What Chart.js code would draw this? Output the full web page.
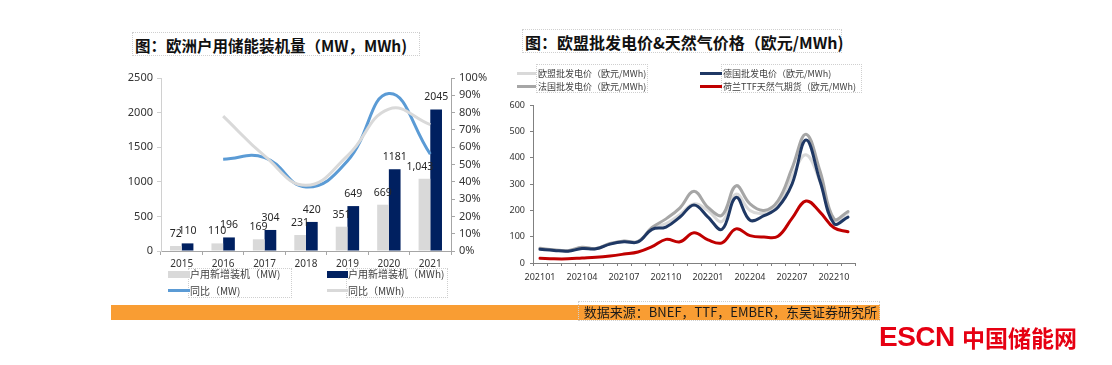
<!DOCTYPE html>
<html>
<head>
<meta charset="utf-8">
<script src="https://cdn.jsdelivr.net/npm/chart.js@4.4.0/dist/chart.umd.min.js"></script>
<style>
  html, body { margin: 0; padding: 0; background: #fff; }
  body { width: 1112px; height: 365px; position: relative; overflow: hidden;
         font-family: "Noto Sans", "Noto Sans CJK SC", sans-serif; color: #333; }
  .abs { position: absolute; white-space: nowrap; }
  .dotbox { position: absolute; border: 1px dotted #cfcfcf; box-sizing: border-box; }
  .title { font-family: "Noto Sans CJK SC", sans-serif; font-weight: 700; font-size: 15.5px;
           line-height: 20px; color: #111; }
  .lg { font-family: "Noto Sans CJK SC", sans-serif; color: #404040; }
  .sw { position: absolute; }
  canvas { position: absolute; }
</style>
</head>
<body>

<!-- titles -->
<div class="dotbox" style="left:132px;top:32px;width:288px;height:24px;"></div>
<div class="abs title" style="left:135px;top:35px;">图：欧洲户用储能装机量（MW，MWh)</div>
<div class="dotbox" style="left:522px;top:29px;width:320px;height:24px;"></div>
<div class="abs title" style="left:525px;top:32px;font-size:16px;">图：欧盟批发电价&amp;天然气价格（欧元/MWh)</div>

<canvas id="installChart" width="390" height="215" style="left:110px;top:60px;"></canvas>
<canvas id="priceChart" width="375" height="195" style="left:495px;top:95px;"></canvas>

<!-- left legend -->
<div class="dotbox" style="left:188px;top:268px;width:104px;height:30px;"></div>
<div class="dotbox" style="left:346px;top:268px;width:102px;height:30px;"></div>
<div class="sw" style="left:168px;top:271px;width:22px;height:7px;background:#d9d9d9;"></div>
<div class="abs lg" style="left:190px;top:267px;font-size:10px;line-height:14px;">户用新增装机（MW)</div>
<div class="sw" style="left:327px;top:271px;width:21px;height:7px;background:#002060;"></div>
<div class="abs lg" style="left:348px;top:267px;font-size:10px;line-height:14px;">户用新增装机（MWh)</div>
<div class="sw" style="left:168px;top:289px;width:22px;height:3px;background:#5b9bd5;"></div>
<div class="abs lg" style="left:190px;top:284px;font-size:10px;line-height:14px;">同比（MW)</div>
<div class="sw" style="left:327px;top:289px;width:21px;height:3px;background:#d9d9d9;"></div>
<div class="abs lg" style="left:348px;top:284px;font-size:10px;line-height:14px;">同比（MWh)</div>

<!-- right legend -->
<div class="dotbox" style="left:536px;top:64px;width:112px;height:29px;"></div>
<div class="dotbox" style="left:721px;top:64px;width:141px;height:29px;"></div>
<div class="sw" style="left:517px;top:72px;width:19px;height:3px;background:#d9d9d9;"></div>
<div class="abs lg" style="left:538px;top:67px;font-size:9px;line-height:13px;">欧盟批发电价（欧元/MWh)</div>
<div class="sw" style="left:700px;top:72px;width:22px;height:3px;background:#1f3864;"></div>
<div class="abs lg" style="left:723px;top:67px;font-size:9px;line-height:13px;">德国批发电价（欧元/MWh)</div>
<div class="sw" style="left:517px;top:85px;width:19px;height:3px;background:#a6a6a6;"></div>
<div class="abs lg" style="left:538px;top:80px;font-size:9px;line-height:13px;">法国批发电价（欧元/MWh)</div>
<div class="sw" style="left:700px;top:85px;width:22px;height:3px;background:#c00000;"></div>
<div class="abs lg" style="left:723px;top:80px;font-size:9px;line-height:13px;">荷兰TTF天然气期货（欧元/MWh)</div>

<!-- source bar -->
<div class="abs" style="left:111px;top:305px;width:769px;height:15px;background:#f99d33;"></div>
<div class="dotbox" style="left:578px;top:301px;width:302px;height:20px;"></div>
<div class="abs" style="right:235px;top:303px;font-family:'Noto Sans CJK SC',sans-serif;font-size:13px;line-height:18px;color:#1a1a1a;">数据来源：BNEF，TTF，EMBER，东吴证券研究所</div>

<!-- logo -->
<div class="abs" style="left:879px;top:320px;font-family:'Liberation Sans',sans-serif;font-weight:700;font-size:28px;line-height:34px;color:#e60012;letter-spacing:-0.5px;">ESCN</div>
<div class="abs" style="left:962px;top:322px;font-family:'Noto Sans CJK SC',sans-serif;font-weight:700;font-size:23px;line-height:30px;color:#e60012;">中国储能网</div>

<script>
// ---- left chart data: household storage installs in Europe ----
const years = ['2015', '2016', '2017', '2018', '2019', '2020', '2021'];
const addedMW = [72, 110, 169, 231, 351, 669, 1043];
const addedMWh = [110, 196, 304, 420, 649, 1181, 2045];
const yoyMW = [null, 53, 54, 37, 52, 91, 56];
const yoyMWh = [null, 78, 55, 38, 55, 82, 73];

// ---- right chart data: wholesale power & gas prices (EUR/MWh) ----
const months = ['202101', '202102', '202103', '202104', '202105', '202106', '202107', '202108',
  '202109', '202110', '202111', '202112', '202201', '202202', '202203', '202204', '202205',
  '202206', '202207', '202208', '202209', '202210', '202211'];
const euPrice = [55, 49, 46, 58, 55, 73, 83, 81, 132, 150, 185, 225, 200, 158, 262, 200, 190, 225, 330, 412, 310, 162, 192];
const dePrice = [52, 48, 45, 55, 54, 72, 81, 80, 128, 137, 175, 221, 175, 128, 250, 163, 180, 212, 300, 468, 312, 150, 175];
const frPrice = [56, 50, 47, 60, 55, 74, 84, 82, 135, 168, 210, 273, 212, 182, 294, 225, 200, 237, 360, 490, 350, 168, 196];
const ttfPrice = [18, 16, 16, 19, 22, 27, 34, 42, 62, 90, 81, 115, 88, 77, 130, 104, 99, 102, 170, 236, 194, 134, 119];

const tickFont = { family: '"Noto Sans", sans-serif', size: 11 };
const axisGray = '#a6a6a6';

// value labels above each bar (gray series uses thousands separator like the source)
const barLabels = {
  id: 'barLabels',
  afterDatasetsDraw(chart) {
    const ctx = chart.ctx;
    ctx.save();
    ctx.font = '10.5px "Noto Sans", sans-serif';
    ctx.fillStyle = '#262626';
    ctx.textAlign = 'center';
    ctx.textBaseline = 'middle';
    chart.data.datasets.forEach((ds, i) => {
      if (ds.type !== 'bar') return;
      chart.getDatasetMeta(i).data.forEach((bar, j) => {
        const v = ds.data[j];
        const gray = i === 2;
        const txt = gray ? v.toLocaleString('en-US') : String(v);
        let x = bar.x;
        if (gray) {
          // keep wide labels from running onto the dark neighbour bar
          const w = ctx.measureText(txt).width;
          x = Math.min(bar.x, bar.x + bar.width / 2 + 3 - w / 2);
        }
        ctx.fillText(txt, x, bar.y - 12);
      });
    });
    ctx.restore();
  }
};

new Chart(document.getElementById('installChart'), {
  data: {
    labels: years,
    datasets: [
      { type: 'line', label: '同比（MWh)', data: yoyMWh, yAxisID: 'y1', borderColor: '#d9d9d9',
        borderWidth: 3, pointRadius: 0, tension: 0.45, order: 0 },
      { type: 'line', label: '同比（MW)', data: yoyMW, yAxisID: 'y1', borderColor: '#5b9bd5',
        borderWidth: 3, pointRadius: 0, tension: 0.45, order: 1 },
      { type: 'bar', label: '户用新增装机（MW)', data: addedMW, yAxisID: 'y', backgroundColor: '#d9d9d9',
        barPercentage: 1, categoryPercentage: 0.565, order: 2 },
      { type: 'bar', label: '户用新增装机（MWh)', data: addedMWh, yAxisID: 'y', backgroundColor: '#002060',
        barPercentage: 1, categoryPercentage: 0.565, order: 2 },
    ]
  },
  options: {
    responsive: false,
    animation: false,
    devicePixelRatio: 1,
    layout: { padding: { top: 18, left: 0, right: 0, bottom: 0 } },
    plugins: { legend: { display: false }, tooltip: { enabled: false } },
    scales: {
      x: {
        grid: { display: true, drawOnChartArea: false, tickLength: 4, color: axisGray, offset: true },
        border: { color: axisGray },
        ticks: { font: { family: '"Noto Sans", sans-serif', size: 10 }, color: '#333', padding: 3 },
        afterFit(s) { s.height = 24; }
      },
      y: {
        position: 'left', min: 0, max: 2500,
        grid: { display: true, drawOnChartArea: false, tickLength: 4, color: '#d0d0d0' },
        border: { color: '#d0d0d0' },
        ticks: { stepSize: 500, font: tickFont, color: '#333', padding: 4, callback: v => String(v) },
        afterFit(s) { s.width = 51; }
      },
      y1: {
        position: 'right', min: 0, max: 100,
        grid: { display: true, drawOnChartArea: false, tickLength: 4, color: axisGray },
        border: { color: axisGray },
        ticks: { stepSize: 10, font: tickFont, color: '#333', padding: 4, callback: v => v + '%' },
        afterFit(s) { s.width = 49; }
      }
    }
  },
  plugins: [barLabels]
});

new Chart(document.getElementById('priceChart'), {
  type: 'line',
  data: {
    labels: months,
    datasets: [
      { label: '欧盟批发电价（欧元/MWh)', data: euPrice, borderColor: '#d9d9d9', order: 4 },
      { label: '德国批发电价（欧元/MWh)', data: dePrice, borderColor: '#1f3864', order: 2 },
      { label: '法国批发电价（欧元/MWh)', data: frPrice, borderColor: '#a6a6a6', order: 3 },
      { label: '荷兰TTF天然气期货（欧元/MWh)', data: ttfPrice, borderColor: '#c00000', order: 1 },
    ]
  },
  options: {
    responsive: false,
    animation: false,
    devicePixelRatio: 1,
    elements: {
      line: { borderWidth: 3, tension: 0.4, borderCapStyle: 'round' },
      point: { radius: 0 }
    },
    layout: { padding: { top: 3, right: 15 } },
    plugins: { legend: { display: false }, tooltip: { enabled: false } },
    scales: {
      x: {
        offset: true,
        grid: { display: true, drawOnChartArea: false, offset: true, tickLength: 3, color: '#808080' },
        border: { color: '#808080' },
        ticks: {
          autoSkip: false, maxRotation: 0, padding: 6,
          font: { family: '"Noto Sans", sans-serif', size: 9 }, color: '#333',
          callback(v, i) { return i % 3 === 0 ? months[i] : ''; }
        },
        afterFit(s) { s.height = 27; }
      },
      y: {
        min: 0, max: 600,
        grid: { display: true, drawOnChartArea: false, tickLength: 3, color: '#808080' },
        border: { color: '#808080' },
        ticks: { stepSize: 100, font: { family: '"Noto Sans", sans-serif', size: 9 }, color: '#333', padding: 5 },
        afterFit(s) { s.width = 38; }
      }
    }
  }
});
</script>
</body>
</html>
